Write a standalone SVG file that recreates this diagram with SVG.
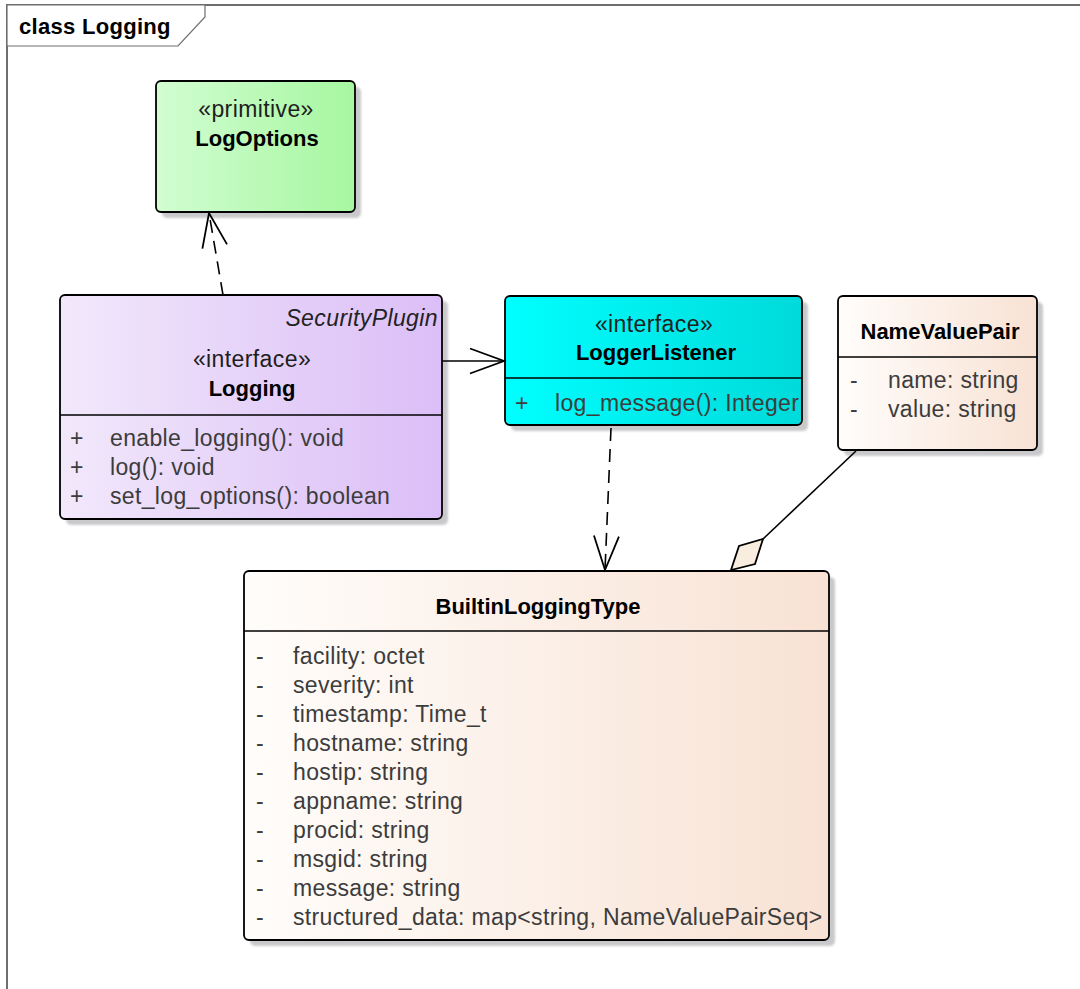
<svg xmlns="http://www.w3.org/2000/svg" width="1080" height="989" viewBox="0 0 1080 989">
<style>
  text { font-family: "Liberation Sans", Arial, sans-serif; font-size: 23px; }
  .reg { fill: #3c3c3c; letter-spacing: 0.35px; }
  .st { fill: #1e1e1e; letter-spacing: 0.4px; text-anchor: middle; }
  .ttl { fill: #000; font-weight: bold; font-size: 22px; text-anchor: middle; }
  .it { fill: #222; font-style: italic; letter-spacing: 0.4px; text-anchor: end; }
  .box { stroke: #000; stroke-width: 1.8; }
  .shadow { fill: #c9c9cc; filter: url(#blur); }
  .div { stroke: #000; stroke-width: 1.6; }
  .frame { fill: none; stroke: #6e6e6e; stroke-width: 2; }
  .solid { fill: none; stroke: #000; stroke-width: 1.6; }
  .dash { fill: none; stroke: #000; stroke-width: 1.6; stroke-dasharray: 13 8; }
</style>
<defs>
  <filter id="blur" x="-5%" y="-5%" width="110%" height="110%"><feGaussianBlur stdDeviation="1"/></filter>
  <linearGradient id="gGreen" x1="0" y1="0" x2="1" y2="0"><stop offset="0" stop-color="#d2fdd2"/><stop offset="1" stop-color="#a6f7a0"/></linearGradient>
  <linearGradient id="gLav" x1="0" y1="0" x2="1" y2="0"><stop offset="0" stop-color="#f2e8fb"/><stop offset="1" stop-color="#dbbef7"/></linearGradient>
  <linearGradient id="gCyan" x1="0" y1="0" x2="1" y2="0"><stop offset="0" stop-color="#00ffff"/><stop offset="1" stop-color="#00dada"/></linearGradient>
  <linearGradient id="gPeach" x1="0" y1="0" x2="1" y2="0"><stop offset="0" stop-color="#fffdfb"/><stop offset="1" stop-color="#f8e2d4"/></linearGradient>
  <marker id="open" markerUnits="userSpaceOnUse" markerWidth="40" markerHeight="30" viewBox="-36 -15 38 30" refX="0" refY="0" orient="auto" overflow="visible">
    <path d="M -34 -12.5 L 0 0 L -34 12.5" fill="none" stroke="#000" stroke-width="1.8" stroke-dasharray="none"/>
  </marker>
</defs>

<g id="frame">
  <path class="frame" d="M 7 989 L 7 5 L 1080 5"/>
  <path d="M 7 5 L 205 5 L 205 17 L 178 46 L 7 46 Z" fill="#fff" stroke="#6e6e6e" stroke-width="1.2"/>
  <text x="19" y="34" style="font-weight:bold;font-size:22px;letter-spacing:0.3px;fill:#000">class Logging</text>
</g>

<g id="LogOptions">
  <rect class="shadow" x="162" y="87" width="199" height="131" rx="5"/>
  <rect class="box" x="156" y="81" width="199" height="131" rx="5" fill="url(#gGreen)"/>
  <text class="st" x="256" y="117">«primitive»</text>
  <text class="ttl" x="257" y="146">LogOptions</text>
</g>

<g id="Logging">
  <rect class="shadow" x="66" y="301" width="382" height="224" rx="5"/>
  <rect class="box" x="60" y="295" width="382" height="224" rx="5" fill="url(#gLav)"/>
  <text class="it" x="438" y="326">SecurityPlugin</text>
  <text class="st" x="252" y="367">«interface»</text>
  <text class="ttl" x="252" y="396">Logging</text>
  <line class="div" x1="60" y1="415" x2="442" y2="415"/>
  <text class="reg" x="70" y="446">+</text><text class="reg" x="110" y="446">enable_logging(): void</text>
  <text class="reg" x="70" y="475">+</text><text class="reg" x="110" y="475">log(): void</text>
  <text class="reg" x="70" y="504">+</text><text class="reg" x="110" y="504">set_log_options(): boolean</text>
</g>

<g id="LoggerListener">
  <rect class="shadow" x="511" y="302" width="297" height="129" rx="5"/>
  <rect class="box" x="505" y="296" width="297" height="129" rx="5" fill="url(#gCyan)"/>
  <text class="st" x="654" y="332">«interface»</text>
  <text class="ttl" x="656" y="360">LoggerListener</text>
  <line class="div" x1="505" y1="378" x2="802" y2="378"/>
  <text class="reg" x="515" y="411">+</text><text class="reg" x="555" y="411">log_message(): Integer</text>
</g>

<g id="NameValuePair">
  <rect class="shadow" x="844" y="302" width="199" height="154" rx="5"/>
  <rect class="box" x="838" y="296" width="199" height="154" rx="5" fill="url(#gPeach)"/>
  <text class="ttl" x="940" y="339">NameValuePair</text>
  <line class="div" x1="838" y1="357" x2="1037" y2="357"/>
  <text class="reg" x="850" y="388">-</text><text class="reg" x="888" y="388">name: string</text>
  <text class="reg" x="850" y="417">-</text><text class="reg" x="888" y="417">value: string</text>
</g>

<g id="BuiltinLoggingType">
  <rect class="shadow" x="250" y="577" width="585" height="369" rx="5"/>
  <rect class="box" x="244" y="571" width="585" height="369" rx="5" fill="url(#gPeach)"/>
  <text class="ttl" x="538" y="614">BuiltinLoggingType</text>
  <line class="div" x1="244" y1="631" x2="829" y2="631"/>
  <text class="reg" x="256" y="664">-</text><text class="reg" x="293" y="664">facility: octet</text>
  <text class="reg" x="256" y="693">-</text><text class="reg" x="293" y="693">severity: int</text>
  <text class="reg" x="256" y="722">-</text><text class="reg" x="293" y="722">timestamp: Time_t</text>
  <text class="reg" x="256" y="751">-</text><text class="reg" x="293" y="751">hostname: string</text>
  <text class="reg" x="256" y="780">-</text><text class="reg" x="293" y="780">hostip: string</text>
  <text class="reg" x="256" y="809">-</text><text class="reg" x="293" y="809">appname: string</text>
  <text class="reg" x="256" y="838">-</text><text class="reg" x="293" y="838">procid: string</text>
  <text class="reg" x="256" y="867">-</text><text class="reg" x="293" y="867">msgid: string</text>
  <text class="reg" x="256" y="896">-</text><text class="reg" x="293" y="896">message: string</text>
  <text class="reg" x="256" y="925">-</text><text class="reg" x="293" y="925">structured_data: map&lt;string, NameValuePairSeq&gt;</text>
</g>

<g id="connectors">
  <line class="dash" x1="223" y1="295" x2="209" y2="213" marker-end="url(#open)"/>
  <line class="solid" x1="442" y1="361" x2="504" y2="361" marker-end="url(#open)"/>
  <line class="dash" x1="611" y1="428" x2="605" y2="570" marker-end="url(#open)"/>
  <line class="solid" x1="856" y1="451" x2="763" y2="539"/>
  <polygon points="731,570 739,546 763,539 755,564" fill="#f8eddf" stroke="#000" stroke-width="1.8" stroke-linejoin="miter"/>
</g>
</svg>
